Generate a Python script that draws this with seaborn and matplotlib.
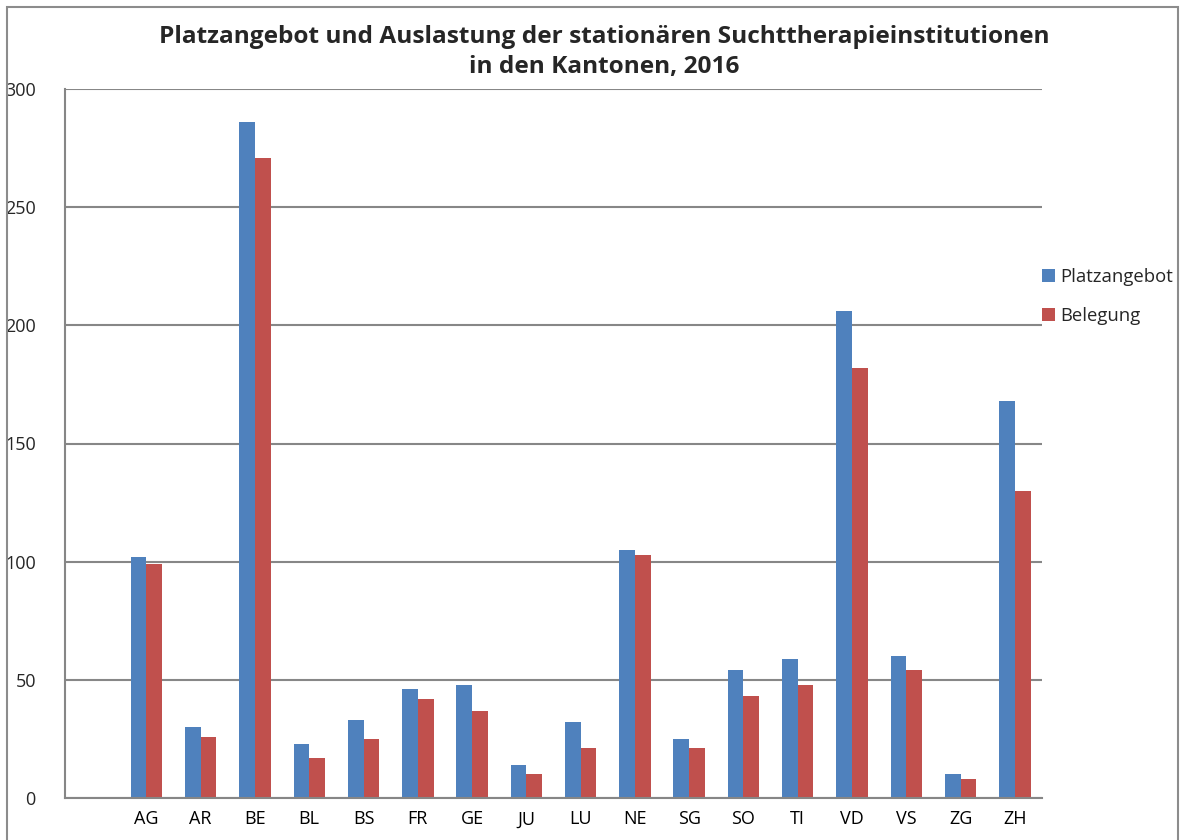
import matplotlib
matplotlib.use("Agg")
import matplotlib.pyplot as plt
import seaborn as sns
import pandas as pd
import numpy as np
from matplotlib.patches import Rectangle

cantons = ["AG", "AR", "BE", "BL", "BS", "FR", "GE", "JU", "LU", "NE",
           "SG", "SO", "TI", "VD", "VS", "ZG", "ZH"]
platzangebot = [102, 30, 286, 23, 33, 46, 48, 14, 32, 105, 25, 54, 59, 206, 60, 10, 168]
belegung = [99, 26, 271, 17, 25, 42, 37, 10, 21, 103, 21, 43, 48, 182, 54, 8, 130]
series = ["Platzangebot", "Belegung"]
colors = ["#4F81BD", "#C0504D"]
yticks = [0, 50, 100, 150, 200, 250, 300]
title = "Platzangebot und Auslastung der stationären Suchttherapieinstitutionen\nin den Kantonen, 2016"

df = pd.DataFrame({
    "Kanton": cantons * 2,
    "Wert": platzangebot + belegung,
    "Serie": [series[0]] * len(cantons) + [series[1]] * len(cantons),
})

sns.set_style("white")
plt.rcParams["font.family"] = ["Open Sans", "DejaVu Sans"]

W, H = 1182, 840
fig = plt.figure(figsize=(W / 100, H / 100), dpi=100)
ax = fig.add_axes([65 / W, 1 - 798 / H, (1042 - 65) / W, (798 - 89) / H])

order = [""] + cantons
sns.barplot(data=df, x="Kanton", y="Wert", hue="Serie", order=order,
            hue_order=series, palette=colors, width=0.58, ax=ax,
            saturation=1, edgecolor="none", linewidth=0, errorbar=None)

n = len(order)
ax.set_xlim(-0.5, n - 0.5)
ax.set_ylim(0, 300)
ax.set_yticks(yticks)
ax.set_yticklabels([str(v) for v in yticks], fontsize=13)
ax.set_xticks(range(n))
ax.set_xticklabels(order, fontsize=13)
ax.set_xticks(np.arange(-0.5, n, 1.0), minor=True)
ax.tick_params(axis="x", which="major", length=0, pad=9, colors="black")
ax.tick_params(axis="x", which="minor", length=6, width=1.3, color="#868686", direction="out")
ax.tick_params(axis="y", which="major", length=7, width=1.3, color="#868686", direction="out", pad=14)
ax.set_xlabel("")
ax.set_ylabel("")

ax.yaxis.grid(True, color="#878787", linewidth=1.5)
ax.set_axisbelow(True)
for s in ["top", "right"]:
    ax.spines[s].set_visible(False)
for s in ["left", "bottom"]:
    ax.spines[s].set_color("#868686")
    ax.spines[s].set_linewidth(1.5)

leg = ax.legend(loc="upper left", bbox_to_anchor=(1042 / W, 1 - 268 / H),
                bbox_transform=fig.transFigure, frameon=False, fontsize=13.3,
                handlelength=0.7, handleheight=0.7, handletextpad=0.3,
                labelspacing=1.15, borderaxespad=0, borderpad=0)

fig.text(604 / W, 1 - 52 / H, title, ha="center", va="center", fontsize=17.6,
         fontweight="bold", linespacing=1.3)

fig.patches.append(Rectangle((7 / W, -0.05), (1178 - 7) / W, (833 / H) + 0.05,
                             transform=fig.transFigure, fill=False,
                             edgecolor="#8c8c8c", linewidth=1.5))

fig.savefig("out.png", dpi=100)
